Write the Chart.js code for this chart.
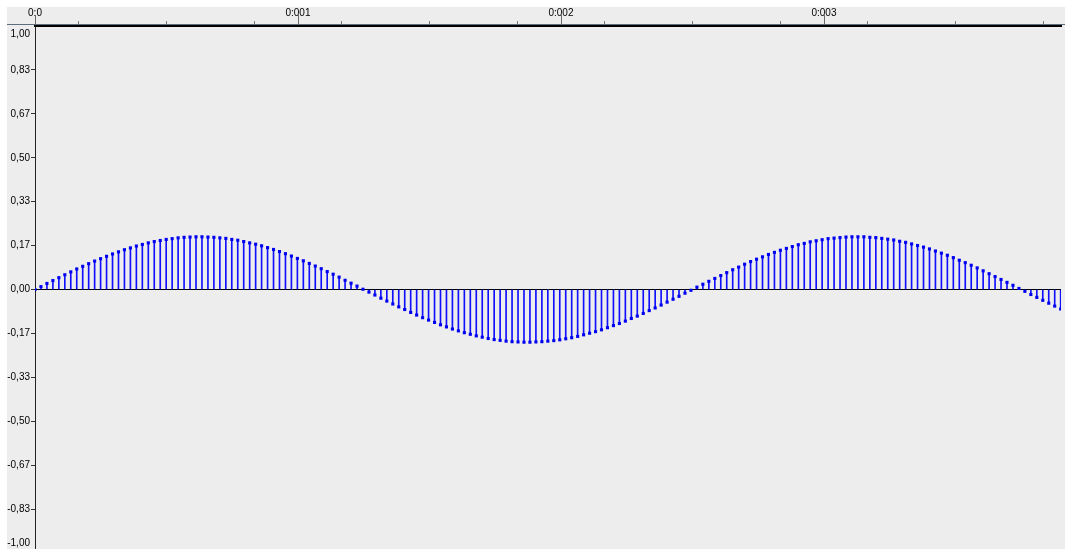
<!DOCTYPE html>
<html lang="en">
<head>
  <meta charset="UTF-8">
  <title>Waveform samples</title>
  <script src="https://cdn.jsdelivr.net/npm/chart.js"></script>
  <style>
    html, body { margin: 0; padding: 0; background: #fff; overflow: hidden; width: 1065px; height: 549px; }
    #wave { position: absolute; left: 7px; top: 7px; }
  </style>
</head>
<body>
  <canvas id="wave" width="1058" height="550"></canvas>

  <script>
    const sampleRate = 44100;
    // sample values (one per stem)
    const sampleValues = [
      0, 0.011, 0.023, 0.034, 0.045, 0.056, 0.067, 0.078, 0.088, 0.098,
      0.108, 0.117, 0.126, 0.135, 0.143, 0.151, 0.158, 0.165, 0.171, 0.177,
      0.182, 0.186, 0.190, 0.193, 0.196, 0.198, 0.199, 0.200, 0.200, 0.199,
      0.198, 0.196, 0.194, 0.190, 0.187, 0.182, 0.177, 0.172, 0.166, 0.159,
      0.152, 0.144, 0.136, 0.127, 0.118, 0.109, 0.099, 0.089, 0.079, 0.068,
      0.058, 0.047, 0.035, 0.024, 0.013, 0.001, -0.010, -0.021, -0.033, -0.044,
      -0.055, -0.066, -0.076, -0.087, -0.097, -0.107, -0.116, -0.125, -0.134, -0.142,
      -0.150, -0.157, -0.164, -0.170, -0.176, -0.181, -0.186, -0.190, -0.193, -0.196,
      -0.198, -0.199, -0.200, -0.200, -0.199, -0.198, -0.196, -0.194, -0.191, -0.187,
      -0.183, -0.178, -0.172, -0.166, -0.160, -0.153, -0.145, -0.137, -0.129, -0.120,
      -0.110, -0.101, -0.091, -0.080, -0.070, -0.059, -0.048, -0.037, -0.026, -0.014,
      -0.003, 0.009, 0.020, 0.031, 0.042, 0.053, 0.064, 0.075, 0.085, 0.096,
      0.106, 0.115, 0.124, 0.133, 0.141, 0.149, 0.156, 0.163, 0.170, 0.175,
      0.181, 0.185, 0.189, 0.193, 0.195, 0.197, 0.199, 0.200, 0.200, 0.200,
      0.198, 0.197, 0.194, 0.191, 0.188, 0.183, 0.179, 0.173, 0.167, 0.161,
      0.154, 0.146, 0.138, 0.130, 0.121, 0.111, 0.102, 0.092, 0.082, 0.071,
      0.060, 0.049, 0.038, 0.027, 0.016, 0.004, -0.007, -0.019, -0.030, -0.041,
      -0.052, -0.063, -0.074
    ];

    // time ruler (seconds)
    const timeMax = 0.0039015;
    const timeTicks = [0, 0.000333, 0.000667, 0.001, 0.001333, 0.001667, 0.002,
                       0.002333, 0.002667, 0.003, 0.003333, 0.003667];
    const timeMajor = [0, 0.001, 0.002, 0.003];
    const timeLabels = ['0:0', '0:001', '0:002', '0:003'];

    // amplitude ruler
    const ampTicks = [-1, -0.8333, -0.6667, -0.5, -0.3333, -0.1667, 0,
                      0.1667, 0.3333, 0.5, 0.6667, 0.8333, 1];

    const rulerFont = { family: 'Liberation Sans', size: 10 };
    const fmtAmp = v => v.toFixed(2).replace('.', ',');

    const points = sampleValues.map((v, i) => ({ x: i / sampleRate, y: v }));

    const waveDecor = {
      id: 'waveDecor',
      beforeDraw(chart) {
        const ctx = chart.ctx;
        ctx.save();
        ctx.fillStyle = '#ededed';
        ctx.fillRect(0, 0, chart.width, chart.height);
        ctx.restore();
      },
      afterDraw(chart) {
        const { ctx, scales: { x, y } } = chart;
        ctx.save();
        // thin blue-grey rule on top of the ruler line
        ctx.fillStyle = '#5d6d7e';
        ctx.fillRect(0, x.bottom - 2, chart.width, 1);
        // long ticks at whole milliseconds
        ctx.strokeStyle = '#6a6a6a';
        ctx.lineWidth = 1;
        timeMajor.forEach(v => {
          const px = Math.round(x.getPixelForValue(v)) + 0.5;
          ctx.beginPath();
          ctx.moveTo(px, x.bottom - 11);
          ctx.lineTo(px, x.bottom - 1);
          ctx.stroke();
        });
        // end labels sit inside the ruler
        ctx.fillStyle = '#000';
        ctx.font = rulerFont.size + 'px ' + rulerFont.family;
        ctx.textAlign = 'right';
        ctx.textBaseline = 'middle';
        ctx.fillText(fmtAmp(1), y.right - 5, y.getPixelForValue(1) + 8);
        ctx.fillText(fmtAmp(-1), y.right - 5, y.getPixelForValue(-1) - 10);
        ctx.restore();
      }
    };

    new Chart(document.getElementById('wave'), {
      type: 'bar',
      data: {
        datasets: [
          {
            type: 'line',
            data: points,
            showLine: false,
            pointStyle: 'rect',
            pointRadius: 2.2,
            pointBorderWidth: 0,
            pointBackgroundColor: '#0000f0',
            order: 0
          },
          {
            type: 'bar',
            data: points,
            barThickness: 1,
            backgroundColor: '#1010ff',
            borderWidth: 0,
            order: 1
          }
        ]
      },
      options: {
        responsive: false,
        animation: false,
        events: [],
        layout: { padding: 0 },
        plugins: { legend: { display: false }, tooltip: { enabled: false } },
        scales: {
          x: {
            type: 'linear',
            position: 'top',
            min: 0,
            max: timeMax,
            offset: false,
            afterFit(scale) {
              scale.height = 19;
              scale.paddingLeft = 0;
              scale.paddingRight = 0;
            },
            afterBuildTicks(scale) { scale.ticks = timeTicks.map(v => ({ value: v })); },
            grid: { drawOnChartArea: false, tickLength: 5, tickColor: '#777', tickWidth: 1 },
            border: { color: '#000', width: 2 },
            ticks: {
              autoSkip: false,
              maxRotation: 0,
              padding: 2,
              color: '#000',
              font: rulerFont,
              callback(v) {
                const i = timeMajor.findIndex(m => Math.abs(m - v) < 1e-6);
                return i >= 0 ? timeLabels[i] : '';
              }
            }
          },
          y: {
            min: -1,
            max: 1,
            z: 1,
            afterFit(scale) {
              scale.width = 28;
              scale.paddingTop = 0;
              scale.paddingBottom = 0;
            },
            afterBuildTicks(scale) { scale.ticks = ampTicks.map(v => ({ value: v })); },
            grid: {
              color: c => (c.tick && c.tick.value === 0 ? '#000' : 'rgba(0,0,0,0)'),
              tickColor: c => (c.tick && Math.abs(c.tick.value) === 1 ? 'rgba(0,0,0,0)' : '#333'),
              tickLength: 4
            },
            border: { color: '#222', width: 1 },
            ticks: {
              autoSkip: false,
              padding: 1,
              color: '#000',
              font: rulerFont,
              callback: v => (Math.abs(v) === 1 ? '' : fmtAmp(v))
            }
          }
        }
      },
      plugins: [waveDecor]
    });
  </script>
</body>
</html>
